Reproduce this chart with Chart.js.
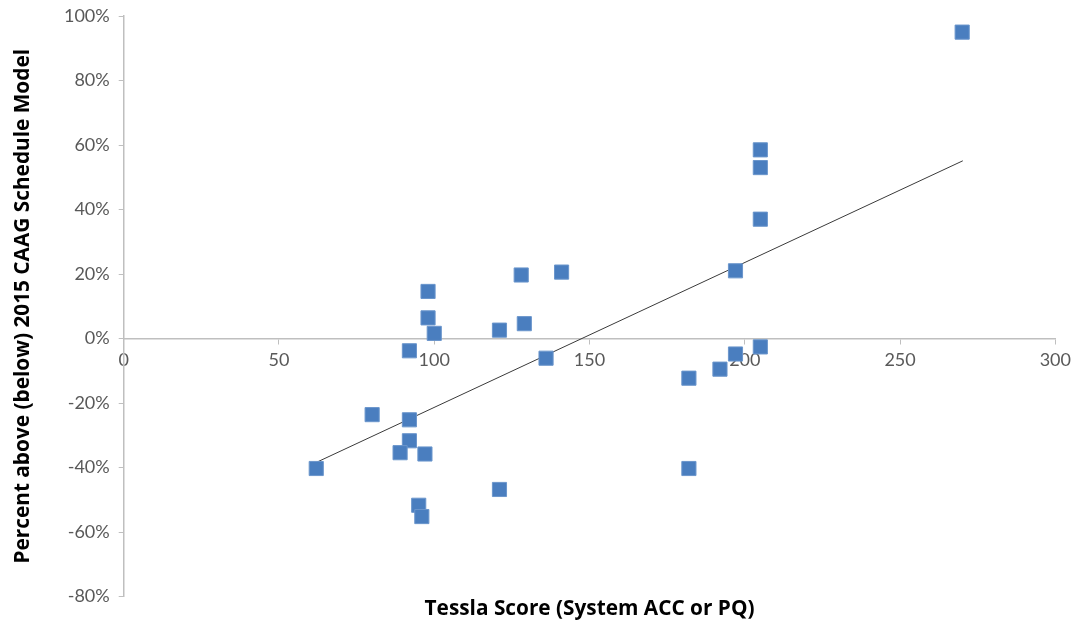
<!DOCTYPE html>
<html>
<head>
<meta charset="utf-8">
<script src="https://cdn.jsdelivr.net/npm/chart.js@4"></script>
<style>
html,body{margin:0;padding:0;background:#fff;}
#wrap{width:1077px;height:627px;}
</style>
</head>
<body>
<div id="wrap"><canvas id="c" width="1077" height="627"></canvas></div>
<script>
// Tessla Score (x) vs Percent above (below) 2015 CAAG Schedule Model (y, %)
const tesslaScore = [270, 205, 205, 205, 197, 128, 141, 98, 98, 100, 121, 129, 92, 136, 197, 205, 192, 182, 80, 92, 92, 89, 97, 62, 182, 121, 95, 96];
const pctAbove    = [95, 58.5, 53, 37, 21, 19.7, 20.6, 14.6, 6.4, 1.6, 2.6, 4.6, -3.8, -6.1, -4.8, -2.6, -9.5, -12.3, -23.6, -25.2, -31.7, -35.4, -35.8, -40.3, -40.3, -46.8, -51.7, -55.2];
// linear trend line end points
const trendX = [61.6, 270.2];
const trendY = [-38.6, 55.1];
// axis ticks
const xTicks = [0, 50, 100, 150, 200, 250, 300];
const yTicks = [-80, -60, -40, -20, 0, 20, 40, 60, 80, 100];

const pts = tesslaScore.map((x, i) => ({x: x, y: pctAbove[i]}));
const trend = trendX.map((x, i) => ({x: x, y: trendY[i]}));

const tickFont = {family: 'Lato, "Liberation Sans", sans-serif', size: 18};
const titleFont = {family: '"Open Sans", "Liberation Sans", sans-serif', size: 20.8, weight: 'bold'};

new Chart(document.getElementById('c'), {
  type: 'scatter',
  data: {
    datasets: [
      {
        type: 'line',
        data: trend,
        borderColor: '#3a3a3a',
        borderWidth: 1,
        pointRadius: 0,
        fill: false,
        order: 2
      },
      {
        data: pts,
        pointStyle: 'rect',
        pointRadius: 10,
        backgroundColor: '#4A7EBF',
        borderColor: '#6B96CC',
        borderWidth: 1,
        order: 1
      }
    ]
  },
  options: {
    responsive: false,
    animation: false,
    devicePixelRatio: 1,
    layout: {padding: {top: 16, right: 16, bottom: 0, left: 11}},
    plugins: {
      legend: {display: false},
      tooltip: {enabled: false},
      title: {
        display: true,
        position: 'bottom',
        fullSize: false,
        text: 'Tessla Score (System ACC or PQ)',
        color: '#000',
        font: titleFont,
        padding: {top: 0, bottom: 5.5}
      }
    },
    scales: {
      x: {
        type: 'linear',
        position: {y: 0},
        min: 0, max: 300,
        afterBuildTicks: s => { s.ticks = xTicks.map(v => ({value: v})); },
        afterFit: s => { s.paddingTop = 0; },
        ticks: {color: '#595959', font: tickFont, padding: 6, maxRotation: 0},
        grid: {display: true, drawOnChartArea: false, drawTicks: true, tickLength: 5, color: '#bfbfbf'},
        border: {display: true, color: '#bfbfbf', width: 1.5}
      },
      y: {
        type: 'linear',
        min: -80, max: 100,
        afterBuildTicks: s => { s.ticks = yTicks.map(v => ({value: v})); },
        afterFit: s => { s.paddingTop = 0; },
        ticks: {color: '#595959', font: tickFont, padding: 9, callback: v => v + '%'},
        grid: {display: true, drawOnChartArea: false, drawTicks: true, tickLength: 5, color: '#bfbfbf'},
        border: {display: true, color: '#bfbfbf', width: 1.5},
        title: {display: true, text: 'Percent above (below) 2015 CAAG Schedule Model', color: '#000', font: titleFont, padding: {top: 0, bottom: 19}}
      }
    }
  }
});
</script>
</body>
</html>
